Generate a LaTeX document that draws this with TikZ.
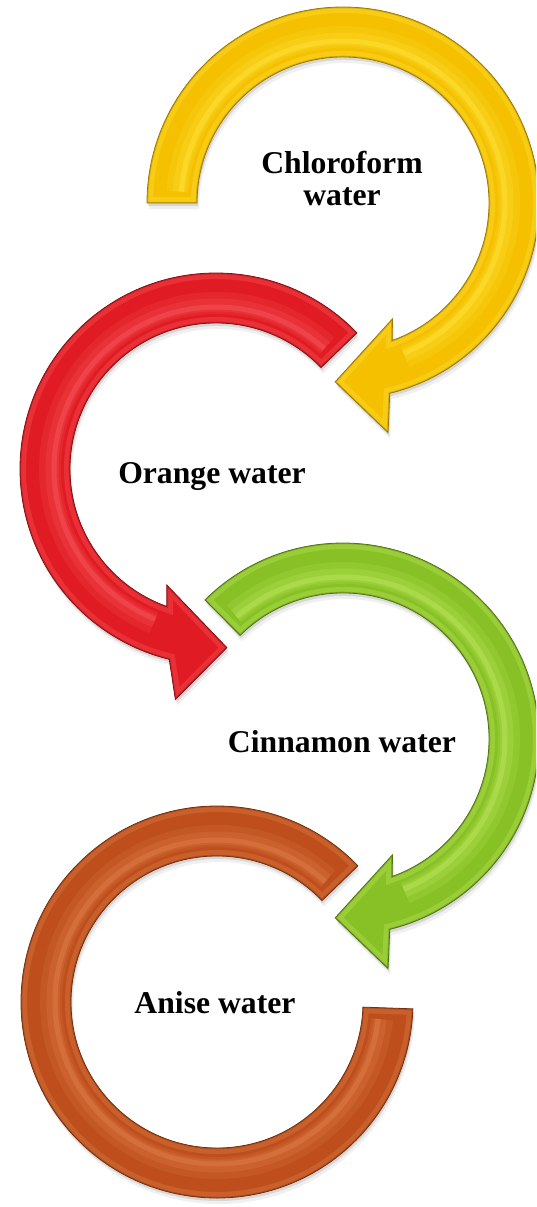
\documentclass[tikz,border=0pt]{standalone}
\usepackage{fontspec}
\setmainfont{Liberation Serif}
\definecolor{yel}{HTML}{F5C000}
\definecolor{yelhi}{HTML}{FFE43C}
\definecolor{yeldk}{HTML}{9C7A00}
\definecolor{redm}{HTML}{E11B23}
\definecolor{redhi}{HTML}{F7585C}
\definecolor{reddk}{HTML}{8A0E12}
\definecolor{grn}{HTML}{88C126}
\definecolor{grnhi}{HTML}{BDE85E}
\definecolor{grndk}{HTML}{527512}
\definecolor{brn}{HTML}{BE4F1C}
\definecolor{brnhi}{HTML}{E0814C}
\definecolor{brndk}{HTML}{76300E}
\newcommand\bevelit[4]{%
  \begin{scope}[shift={(2,6)}]\fill[black,opacity=0.06] #1;\end{scope}
  \begin{scope}[shift={(1,3)}]\fill[black,opacity=0.10] #1;\end{scope}
  \fill[#2] #1;
  \begin{scope}\clip #1;
    \draw[#3,line width=12,opacity=0.35] #1;
    \draw[#4,line width=2.5,opacity=0.35] #1;
  \end{scope}
  \draw[#4,line width=0.8] #1;
}
% soft highlight band along the ring: #1 colour, #2 start, #3 end
\newcommand\softband[3]{%
  \draw[#1,line width=22,opacity=0.18] (#2:166) arc[start angle=#2,end angle=#3,radius=166];
  \draw[#1,line width=13,opacity=0.25] (#2:164) arc[start angle=#2,end angle=#3,radius=164];
  \draw[#1,line width=5,opacity=0.45] (#2:162) arc[start angle=#2,end angle=#3,radius=162];
}
\tikzset{lbl/.style={font=\fontsize{31.7}{32}\selectfont\bfseries, inner sep=0pt, align=center}}
\begin{document}
\begin{tikzpicture}[x=1pt,y=1pt,yscale=-1]
\useasboundingbox (0,0) rectangle (536,1207);
\clip (0,0) rectangle (536,1207);
\fill[white] (0,0) rectangle (536,1207);
% yellow
\begin{scope}[shift={(343,203)}]
  \def\pY{(180:196) arc[start angle=180,end angle=436.2,radius=196] -- (78.9:234) -- (92.5:179) -- (66.9:126) -- (430.3:146) arc[start angle=430.3,end angle=180,radius=146] -- cycle}
  \bevelit{\pY}{yel}{yelhi}{yeldk}
  \softband{yelhi}{184}{428}
\end{scope}
% red
\begin{scope}[shift={(216,469)}]
  \def\pR{(316:196) arc[start angle=316,end angle=103.8,radius=196] -- (100:234) -- (86.5:179) -- (113:126) -- (109.7:146) arc[start angle=109.7,end angle=316,radius=146] -- cycle}
  \bevelit{\pR}{redm}{redhi}{reddk}
  \softband{redhi}{312}{112}
\end{scope}
% green
\begin{scope}[shift={(343,739)}]
  \def\pG{(225.2:196) arc[start angle=225.2,end angle=436.2,radius=196] -- (78.9:234) -- (92.5:179) -- (66.9:126) -- (430.3:146) arc[start angle=430.3,end angle=225.2,radius=146] -- cycle}
  \bevelit{\pG}{grn}{grnhi}{grndk}
  \softband{grnhi}{229}{428}
\end{scope}
% brown
\begin{scope}[shift={(217,1002)}]
  \def\pB{(316:196) arc[start angle=316,end angle=2,radius=196] -- (2:146) arc[start angle=2,end angle=316,radius=146] -- cycle}
  \bevelit{\pB}{brn}{brnhi}{brndk}
  \softband{brnhi}{312}{6}
\end{scope}
% labels
\node[lbl] (chl) at (342,178) {Chloroform\\water};
\node[lbl,anchor=base] (ora) at (212,483) {Orange water};
\node[lbl,anchor=base] (cin) at (342,752) {Cinnamon water};
\node[lbl,anchor=base] (ani) at (215,1013) {Anise water};
\end{tikzpicture}
\end{document}
